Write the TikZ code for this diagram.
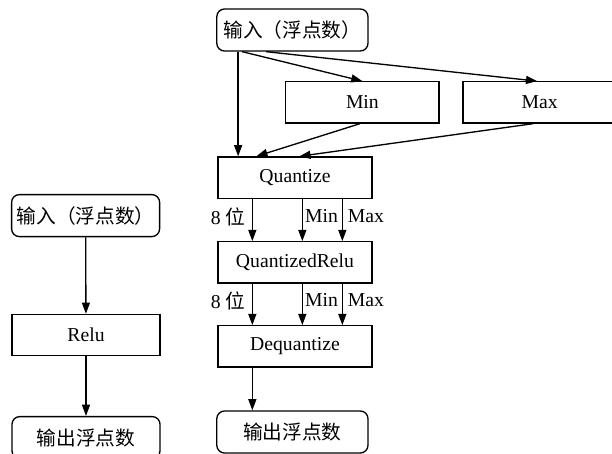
\documentclass[tikz,border=0pt]{standalone}
\usepackage{fontspec}
\setmainfont{Liberation Serif}
\newfontfamily\cjk{Noto Sans CJK SC}
\usetikzlibrary{arrows.meta}

\begin{document}
\begin{tikzpicture}[
  font=\fontsize{14}{16}\selectfont,
  iobox/.style={draw, rectangle, rounded corners=5.5pt, align=center, minimum width=3.78cm, minimum height=1.05cm, inner sep=2pt, line width=0.95pt},
  opbox/.style={draw, rectangle, align=center, minimum width=3.85cm, minimum height=1.03cm, inner sep=2pt, line width=0.95pt},
  lbl/.style={inner sep=1.5pt},
  arrow/.style={-{Triangle[length=2.8mm, width=2mm]}, line width=0.95pt}
]
\useasboundingbox (0,0) rectangle (15.3,-11.35);

% ==================== LEFT: float Relu ====================
\node[iobox, minimum width=3.7cm] (in_l) at (2.14, -5.39) {{\cjk 输入（浮点数）}};
\node[opbox, minimum width=3.7cm] (relu) at (2.15, -8.375) {Relu};
\node[iobox, minimum width=3.7cm] (out_l) at (2.15, -10.94) {{\cjk 输出浮点数}};

\draw[arrow] (in_l) -- (relu);
\draw[arrow] (relu) -- (out_l);

% ==================== RIGHT: quantized Relu ====================
\node[iobox] (in_r) at (7.31, -0.75) {{\cjk 输入（浮点数）}};
\node[opbox, minimum width=3.83cm] (min) at (9.06, -2.56) {Min};
\node[opbox, minimum width=3.83cm] (max) at (13.49, -2.56) {Max};

\node[opbox] (quant) at (7.375, -4.44) {Quantize};
\node[opbox] (qrelu) at (7.375, -6.56) {QuantizedRelu};
\node[opbox] (deq) at (7.375, -8.66) {Dequantize};
\node[iobox] (out_r) at (7.31, -10.8) {{\cjk 输出浮点数}};

\draw[arrow] ([xshift=0.55cm]in_r.south west) -- ([xshift=0.55cm]in_r.south west |- quant.north);
\draw[arrow] ([xshift=0.65cm]in_r.south west) -- (min.north);
\draw[arrow] ([xshift=1.25cm]in_r.south west) -- ([xshift=-0.06cm]max.north);

\draw[arrow] ([xshift=-0.06cm]min.south) -- ([xshift=0.975cm]quant.north west);
\draw[arrow] ([xshift=-0.16cm]max.south) -- ([xshift=2.05cm]quant.north west);

\foreach \up/\dn in {quant/qrelu, qrelu/deq} {
  \draw[arrow] ([xshift=0.875cm]\up.south west) -- node[lbl, left, pos=0.42, xshift=-3pt] {8 {\cjk 位}} ([xshift=0.875cm]\up.south west |- \dn.north);
  \draw[arrow] ([xshift=2.125cm]\up.south west) -- node[lbl, right, pos=0.4] {Min} ([xshift=2.125cm]\up.south west |- \dn.north);
  \draw[arrow] ([xshift=3.125cm]\up.south west) -- node[lbl, right, pos=0.4, xshift=2pt] {Max} ([xshift=3.125cm]\up.south west |- \dn.north);
}

\draw[arrow] ([xshift=0.875cm]deq.south west) -- ([xshift=0.875cm]deq.south west |- out_r.north);

\end{tikzpicture}
\end{document}
